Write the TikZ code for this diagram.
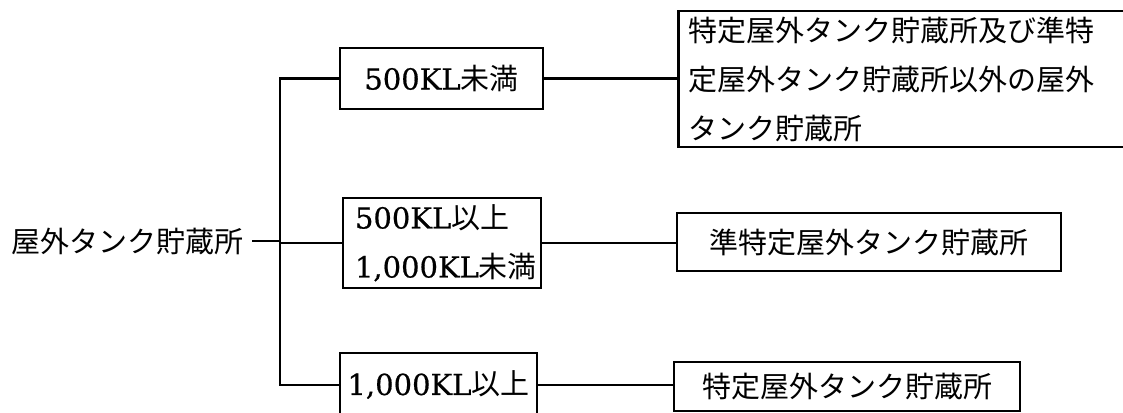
\documentclass[tikz,border=0pt]{standalone}
\usepackage{fontspec}
\setmainfont{DejaVu Serif}[FakeBold=0.6]
\newfontfamily\jp{Noto Sans CJK JP}
\begin{document}
\begin{tikzpicture}[x=0.75pt,y=-0.75pt,
  font=\fontsize{21.75}{36.75}\selectfont,
  box/.style={draw, line width=2pt, inner sep=0pt},
  conn/.style={line width=2pt}]
\useasboundingbox (0,0) rectangle (1123,412);
\clip (0,0) rectangle (1123,412);
\node[anchor=west, inner sep=3pt, outer sep=3pt] (root) at (4,241) {\jp 屋外タンク貯蔵所};
\coordinate (tr) at (280,0);
\node[box, minimum width=152.25pt, minimum height=45.75pt] (a1) at (441.5,78.5) {500KL{\jp 未満}};
\node[box, minimum width=148.5pt, minimum height=67.5pt, inner xsep=9pt, text width=130.5pt, align=left] (a2) at (442,243) {500KL{\jp 以上}\\1,000KL{\jp 未満}};
\node[box, minimum width=147.75pt, minimum height=48pt] (a3) at (438.5,385) {1,000KL{\jp 以上}};
\node[box, anchor=west, minimum height=102pt, inner xsep=7.5pt, text width=330pt, align=left] (b1) at (677,79) {\jp 特定屋外タンク貯蔵所及び準特\\定屋外タンク貯蔵所以外の屋外\\タンク貯蔵所};
\node[box, minimum width=288pt, minimum height=43.5pt] (b2) at (869,242) {\jp 準特定屋外タンク貯蔵所};
\node[box, minimum width=259.5pt, minimum height=36.75pt] (b3) at (847,386.5) {\jp 特定屋外タンク貯蔵所};
\draw[conn] (a1.west) -- (a1.west -| tr) -- (a3.west -| tr) -- (a3.west);
\draw[conn] (root.east) -- (root.east -| tr);
\draw[conn] (a2.west -| tr) -- (a2.west);
\draw[conn] (a1.east) -- (a1.east -| b1.west);
\draw[conn] (a2.east) -- (a2.east -| b2.west);
\draw[conn] (a3.east) -- (a3.east -| b3.west);
\end{tikzpicture}
\end{document}
